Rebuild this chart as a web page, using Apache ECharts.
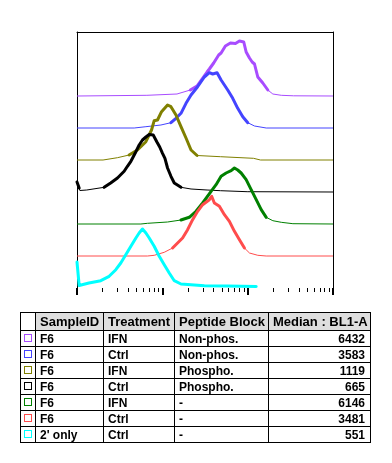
<!DOCTYPE html>
<html><head><meta charset="utf-8">
<script src="https://cdn.jsdelivr.net/npm/echarts@6/dist/echarts.min.js"></script>
<style>
html,body{margin:0;padding:0;background:#fff;}
#wrap{position:relative;width:392px;height:463px;overflow:hidden;background:#fff;}
#chart{position:absolute;left:0;top:0;width:392px;height:463px;}
#tbl{position:absolute;left:20px;top:312px;border-collapse:collapse;table-layout:fixed;width:351px;
 font-family:"Liberation Sans",Arial,sans-serif;font-weight:bold;color:#000;}
#tbl td,#tbl th{border:1px solid #000;padding:0 4px;white-space:nowrap;overflow:hidden;font-size:12px;text-align:left;font-weight:bold;}
#tbl th{font-size:13px;background:#dedede;}
#tbl th.blank{background:#fff;}
#tbl tr.h{height:18px;}
#tbl tr.r{height:16px;}
#tbl td.num{text-align:right;padding-right:5px;}
#tbl td.box{padding:0;text-align:center;}
.sw{display:inline-block;width:6px;height:6px;border:1px solid #000;vertical-align:middle;margin-top:-2px;}
</style>
</head><body>
<div id="wrap">
<div id="chart"></div>
<table id="tbl"><colgroup><col style="width:15px"><col style="width:68px"><col style="width:71px"><col style="width:94px"><col style="width:102px"></colgroup><tbody id="tb"></tbody></table>
</div>
<script>
// ---- data ----
const headers = ['', 'SampleID', 'Treatment', 'Peptide Block', 'Median : BL1-A'];
const sampleIds = ['F6', 'F6', 'F6', 'F6', 'F6', 'F6', "2' only"];
const treatments = ['IFN', 'Ctrl', 'IFN', 'Ctrl', 'IFN', 'Ctrl', 'Ctrl'];
const peptideBlocks = ['Non-phos.', 'Non-phos.', 'Phospho.', 'Phospho.', '-', '-', '-'];
const medians = [6432, 3583, 1119, 665, 6146, 3481, 551];
const majorTicks = [100, 1000, 10000, 100000];
const minorTicks = [200,300,400,500,600,700,800,900,2000,3000,4000,5000,6000,7000,8000,9000,20000,30000,40000,50000,60000,70000,80000,90000];

// histograms: [BL1-A value, normalized count]
const purpleHist = [[100,0],[659,0.7],[1485,2],[2128,6],[2550,10],[3342,24],[3557,27],[3996,33],[4575,41],[4882,43],[5484,50],[6280,53],[7190,52.5],[8009,55],[8387,56],[9000,54],[9600,44],[10500,38],[11290,34],[12020,32],[13140,19],[15050,13],[17230,6],[19720,2],[24760,0.7],[34530,0.2],[100000,0]];
const blueHist = [[100,0],[468,0],[642,1.3],[963,3],[1262,5.3],[1445,9.7],[1654,14.7],[1894,24.7],[2169,33],[2592,41.3],[3107,51],[3557,55.3],[3890,54],[4381,55.3],[4882,48],[5837,38],[6683,29.7],[7650,19.7],[8760,11.3],[10030,5.3],[12020,2],[16500,0],[100000,0]];
const oliveHist = [[100,0],[202,0],[208,1],[298,2.3],[408,5],[511,10],[642,18.3],[747,30],[803,39.3],[878,40],[979,48.3],[1151,55],[1262,53.3],[1445,45],[1654,33.3],[1894,22],[2169,10],[2550,4.5],[4790,3.3],[11700,1.7],[14140,0],[100000,0]];
const blackHist = [[100,10],[104,10],[106,4],[108,1.5],[130,2],[208,4.7],[248,9],[298,14],[357,20.7],[390,25.7],[428,30.7],[447,33.7],[490,40.3],[535,47],[585,52],[642,55],[702,57.5],[782,57],[864,50],[932,45],[1005,38.7],[1073,33.7],[1151,24],[1262,15.7],[1380,9],[1654,4.7],[2169,3],[3342,2],[4790,1.3],[9860,0.3],[100000,0]];
const greenHist = [[100,0],[560,0],[670,0.7],[1151,2],[1654,4],[2071,6.7],[2482,12.7],[2968,21],[3107,22.7],[3725,32.7],[4264,39.3],[4882,47.7],[5590,51],[6400,53.3],[6998,56],[7650,54],[8387,51],[9600,44.3],[10990,34.3],[12590,24.3],[14410,14.3],[16500,6.7],[19720,3.3],[24760,1.7],[33880,0.3],[100000,0]];
const redHist = [[100,0],[670,0],[803,0.7],[1053,3.7],[1318,8],[1509,13],[1727,18],[1978,26.3],[2265,36.3],[2592,44.7],[2968,51.3],[3107,51.3],[3557,56.3],[3785,59.7],[4072,53],[4662,49.7],[5340,41.3],[6110,34.7],[6998,24.7],[8009,16.3],[9170,8],[10500,3],[13140,0.7],[16500,0],[100000,0]];
const cyanHist = [[100,26],[104,26],[106,2.5],[110,2.7],[138,5],[190,7.3],[238,11.7],[285,18.3],[326,25],[373,33.3],[428,41.7],[490,50],[535,55],[585,59],[642,55],[702,50],[803,41.7],[920,31.7],[1053,23.3],[1205,15],[1380,7.3],[1654,4],[2371,3],[3107,2.3],[5837,2],[12590,1.5]];

const curves = [purpleHist, blueHist, oliveHist, blackHist, greenHist, redHist, cyanHist];

// ---- style ----
const colors = ['#a84cff', '#4444ff', '#808000', '#000000', '#008000', '#ff4c4c', '#00ffff'];
const thickFrom = [4, 4, 4, 4, 4, 4, 1];
const OFFSET_STEP = 32;

// ---- table ----
const tb = document.getElementById('tb');
let html = '<tr class="h">' + headers.map((h, i) => '<th' + (i === 0 ? ' class="blank"' : '') + '>' + h + '</th>').join('') + '</tr>';
for (let i = 0; i < sampleIds.length; i++) {
  html += '<tr class="r"><td class="box"><span class="sw" style="border-color:' + colors[i] + '"></span></td>' +
    '<td>' + sampleIds[i] + '</td><td>' + treatments[i] + '</td><td>' + peptideBlocks[i] + '</td><td class="num">' + medians[i] + '</td></tr>';
}
tb.innerHTML = html;

// ---- chart ----
const chart = echarts.init(document.getElementById('chart'), null, {renderer: 'canvas'});
const series = [];
curves.forEach((c, i) => {
  const off = (curves.length - 1 - i) * OFFSET_STEP;
  series.push({
    type: 'line', symbol: 'none', clip: false, silent: true, animation: false,
    data: c.map(p => [p[0], p[1] + off]),
    lineStyle: {color: colors[i], width: 1, join: 'round'}
  });
  series.push({
    type: 'line', symbol: 'none', clip: false, silent: true, animation: false, connectNulls: false,
    data: c.map(p => p[1] >= thickFrom[i] ? [p[0], p[1] + off] : [p[0], '-']),
    lineStyle: {color: colors[i], width: 3, join: 'round', cap: 'round'}
  });
});
const xBase = {type: 'log', logBase: 10, min: 100, max: 100000, axisLabel: {show: false}, splitLine: {show: false}};
chart.setOption({
  animation: false,
  backgroundColor: '#fff',
  grid: {left: 77, top: 32, width: 256, height: 256, containLabel: false},
  xAxis: [
    Object.assign({}, xBase, {position: 'bottom', axisLine: {show: false},
      axisTick: {show: true, length: 7, customValues: majorTicks, lineStyle: {color: '#000', width: 2}}}),
    Object.assign({}, xBase, {position: 'bottom', axisLine: {show: false},
      axisTick: {show: true, length: 4, customValues: minorTicks, lineStyle: {color: '#000', width: 1}}}),
    Object.assign({}, xBase, {position: 'top', axisLine: {show: true, lineStyle: {color: '#000', width: 1}}, axisTick: {show: false}})
  ],
  yAxis: [
    {type: 'value', min: 0, max: 256, position: 'left', axisLine: {show: true, onZero: false, lineStyle: {color: '#000', width: 1}}, axisTick: {show: false}, axisLabel: {show: false}, splitLine: {show: false}},
    {type: 'value', min: 0, max: 256, position: 'right', axisLine: {show: true, onZero: false, lineStyle: {color: '#000', width: 1}}, axisTick: {show: false}, axisLabel: {show: false}, splitLine: {show: false}}
  ],
  series: series
});
</script>
</body></html>
